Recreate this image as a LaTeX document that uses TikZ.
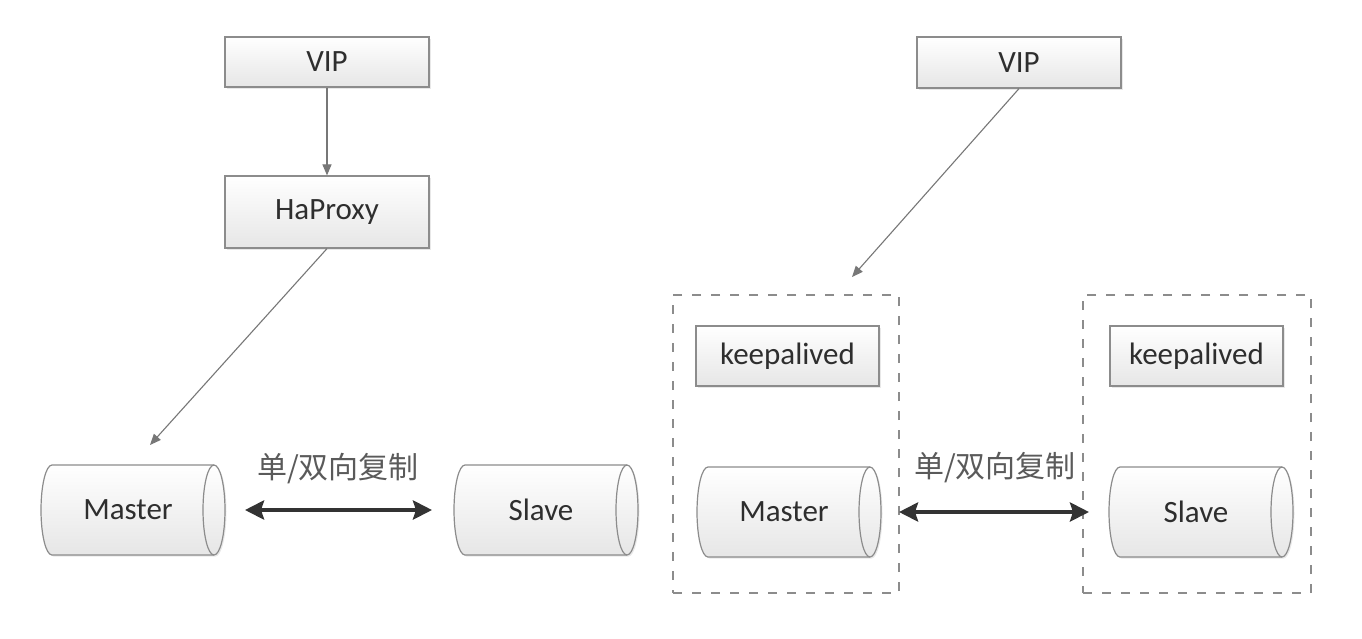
\documentclass[tikz,border=0pt]{standalone}
\usepackage{fontspec}
\setmainfont{Carlito}
\newfontfamily\cjkfont{Noto Sans CJK SC}
\usetikzlibrary{arrows.meta,shadows,calc}
\definecolor{boxline}{HTML}{8C8C8C}
\definecolor{boxbot}{HTML}{E6E6E6}
\definecolor{txt}{HTML}{2E2E2E}
\definecolor{conn}{HTML}{777777}
\definecolor{dbl}{HTML}{333333}
\definecolor{lbl}{HTML}{5A5A5A}
\pgfdeclarelayer{bg}
\pgfsetlayers{bg,main}
\newcommand\dbdraw[1]{%
  \shade[dbshape] ($(#1.north west)+(11pt,0pt)$) -- ($(#1.north east)+(-11pt,0pt)$)
    arc[start angle=90, end angle=-90, x radius=11pt, y radius=45pt]
    -- ($(#1.south west)+(11pt,0pt)$)
    arc[start angle=270, end angle=90, x radius=11pt, y radius=45pt] -- cycle;
  \draw[dbline] ($(#1.north east)+(-11pt,0pt)$)
    arc[start angle=90, end angle=270, x radius=11pt, y radius=45pt];
}
\begin{document}
\begin{tikzpicture}[x=1pt,y=-1pt,
  box/.style={draw=boxline, line width=1.2pt, top color=white, bottom color=boxbot,
    inner sep=0pt, font=\fontsize{31}{36}\selectfont, text=txt,
    drop shadow={shadow xshift=1.5pt, shadow yshift=-1.5pt, opacity=0.18}},
  db/.style={rectangle, inner sep=0pt, outer sep=0pt,
    minimum width=184pt, minimum height=90pt,
    font=\fontsize{31}{36}\selectfont, text=txt},
  dbshape/.style={draw=boxline, line width=1.2pt, top color=white, bottom color=boxbot,
    drop shadow={shadow xshift=1.5pt, shadow yshift=-1.5pt, opacity=0.18}},
  dbline/.style={draw=boxline, line width=1.2pt},
  group/.style={draw=boxline, line width=1.2pt, dash pattern=on 9pt off 10pt, inner sep=0pt},
  conn/.style={draw=conn, line width=1.1pt, -{Triangle[length=11pt,width=9pt]}},
  dblarrow/.style={draw=dbl, line width=4.5pt,
    {Stealth[length=19pt,width=19pt,inset=3pt]}-{Stealth[length=19pt,width=19pt,inset=3pt]}},
  rep/.style={font=\cjkfont\fontsize{30}{34}\selectfont, text=lbl, inner sep=0pt}
]
\begin{pgfonlayer}{bg}
\useasboundingbox (0,0) rectangle (1362,638);
\fill[white] (0,0) rectangle (1362,638);
\end{pgfonlayer}

% dashed groups
\node[group, minimum width=226pt, minimum height=298pt] (g1) at (786,444) {};
\node[group, minimum width=228pt, minimum height=298pt] (g2) at (1197,444) {};

% left
\node[box, minimum width=204pt, minimum height=50pt] (vip1) at (327,62) {VIP};
\node[box, minimum width=204pt, minimum height=72pt] (hap) at (327,212) {HaProxy};
\node[db] (m1) at (133,510) {Master\kern10pt};
\node[db] (s1) at (546,510) {Slave\kern10pt};
\coordinate (m1tip) at (150,445);
\node[rep] (r1) at (338,469) {单/双向复制};

% right
\node[box, minimum width=204pt, minimum height=51pt] (vip2) at (1019,62.5) {VIP};
\node[box, minimum width=183pt, minimum height=60pt] (k1) at (787.5,356) {keepalived};
\node[box, minimum width=173pt, minimum height=60pt] (k2) at (1196.5,356) {keepalived};
\node[db] (m2) at (789,512) {Master\kern10pt};
\node[db] (s2) at (1201,512) {Slave\kern10pt};
\coordinate (g1tip) at (852,277);
\node[rep] (r2) at (995,468) {单/双向复制};

% cylinder bodies behind the texts
\begin{pgfonlayer}{bg}
\dbdraw{m1}
\dbdraw{s1}
\dbdraw{m2}
\dbdraw{s2}
\end{pgfonlayer}

% connectors
\draw[conn] (vip1.south) -- (hap.north);
\draw[conn] (hap.south) -- (m1tip);
\draw[conn] (vip2.south) -- (g1tip);
\draw[dblarrow, shorten <=20pt, shorten >=22pt] (m1.east) -- (s1.west);
\draw[dblarrow, shorten <=18pt, shorten >=20pt] (m2.east) -- (s2.west);
\end{tikzpicture}
\end{document}
